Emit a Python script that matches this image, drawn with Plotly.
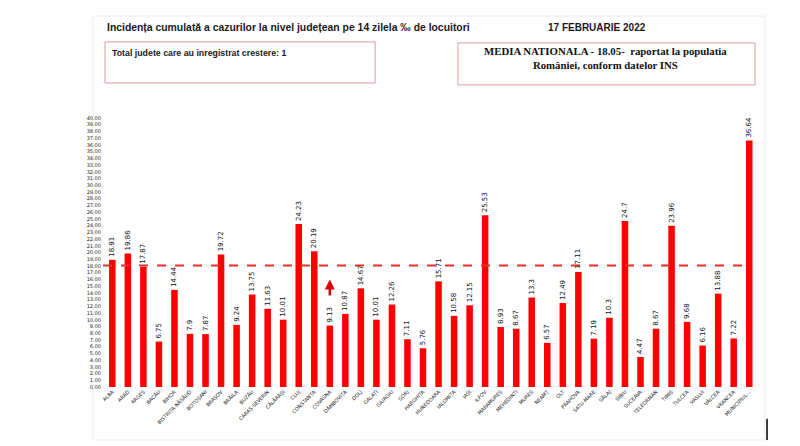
import plotly.graph_objects as go

judete = ["ALBA", "ARAD", "ARGEȘ", "BACĂU", "BIHOR", "BISTRIȚA-NĂSĂUD", "BOTOȘANI", "BRAȘOV",
          "BRĂILA", "BUZĂU", "CARAȘ-SEVERIN", "CĂLĂRAȘI", "CLUJ", "CONSTANȚA", "COVASNA",
          "DÂMBOVIȚA", "DOLJ", "GALAȚI", "GIURGIU", "GORJ", "HARGHITA", "HUNEDOARA", "IALOMIȚA",
          "IAȘI", "ILFOV", "MARAMUREȘ", "MEHEDINȚI", "MUREȘ", "NEAMȚ", "OLT", "PRAHOVA",
          "SATU MARE", "SĂLAJ", "SIBIU", "SUCEAVA", "TELEORMAN", "TIMIȘ", "TULCEA", "VASLUI",
          "VÂLCEA", "VRANCEA", "MUNICIPIUL..."]
incidenta = [18.91, 19.86, 17.87, 6.75, 14.44, 7.9, 7.87, 19.72, 9.24, 13.75, 11.63, 10.01,
             24.23, 20.19, 9.13, 10.87, 14.67, 10.01, 12.26, 7.11, 5.76, 15.71, 10.58, 12.15,
             25.53, 8.93, 8.67, 13.3, 6.57, 12.49, 17.11, 7.19, 10.3, 24.7, 4.47, 8.67, 23.96,
             9.68, 6.16, 13.88, 7.22, 36.64]
media_nationala = 18.05
y_ticks = [i * 1.0 for i in range(0, 41)]
judet_crestere = "COVASNA"
sageata = [13.4, 16.0]  # tail, tip

fig = go.Figure()
fig.add_trace(go.Bar(
    x=judete, y=incidenta,
    marker=dict(color="#ff0000", line=dict(width=0)),
    width=0.42,
    text=[f"{v:g}" for v in incidenta],
    textposition="outside",
    textangle=-90,
    constraintext="none",
    textfont=dict(family="DejaVu Sans", size=7, color="#111111"),
    cliponaxis=False,
))

# national average dashed line
fig.add_shape(type="line", xref="x", yref="y", x0=-0.6, x1=len(judete) - 1,
              y0=media_nationala, y1=media_nationala,
              line=dict(color="#e8302a", width=2, dash="dash"))

# arrow for county with increase
fig.add_annotation(x=judet_crestere, y=sageata[1], ax=judet_crestere, ay=sageata[0],
                   xref="x", yref="y", axref="x", ayref="y", text="",
                   showarrow=True, arrowhead=2, arrowsize=0.8, arrowwidth=2.5,
                   arrowcolor="#e00000")

# outer faint frame
fig.add_shape(type="rect", xref="paper", yref="paper", x0=-0.0137, x1=1.012, y0=-0.197, y1=1.379,
              line=dict(color="#ececec", width=1), fillcolor="rgba(0,0,0,0)", layer="below")
# small black mark
fig.add_shape(type="line", xref="paper", yref="paper", x0=1.0153, x1=1.0153, y0=-0.118, y1=-0.197,
              line=dict(color="#000000", width=1.5))

# title texts
fig.add_annotation(xref="paper", yref="paper", x=0.0046, y=1.338, xanchor="left", yanchor="middle",
                   text="<b>Incidența cumulată a cazurilor la nivel județean pe 14 zilela ‰ de locuitori</b>",
                   showarrow=False, font=dict(family="Liberation Sans", size=10.4, color="#1a1a1a"))
fig.add_annotation(xref="paper", yref="paper", x=0.756, y=1.338, xanchor="center", yanchor="middle",
                   text="<b>17 FEBRUARIE 2022</b>",
                   showarrow=False, font=dict(family="Liberation Sans", size=10, color="#1a1a1a"))

# box 1
fig.add_shape(type="rect", xref="paper", yref="paper", x0=0.0046, x1=0.417, y0=1.130, y1=1.283,
              line=dict(color="#e09aa0", width=1), fillcolor="white")
fig.add_annotation(xref="paper", yref="paper", x=0.0122, y=1.242, xanchor="left", yanchor="middle",
                   text="<b>Total judete care au inregistrat crestere: 1</b>",
                   showarrow=False, font=dict(family="Liberation Sans", size=8.8, color="#1a1a1a"))

# box 2
fig.add_shape(type="rect", xref="paper", yref="paper", x0=0.5435, x1=0.997, y0=1.123, y1=1.279,
              line=dict(color="#e09aa0", width=1), fillcolor="white")
fig.add_annotation(xref="paper", yref="paper", x=0.769, y=1.223, xanchor="center", yanchor="middle",
                   text="<b>MEDIA NATIONALA - 18.05-  raportat la populatia</b><br><b>României, conform datelor INS</b>",
                   showarrow=False, align="center",
                   font=dict(family="Liberation Serif", size=10.8, color="#111111"))

fig.update_layout(
    width=792, height=438,
    margin=dict(l=94, r=43, t=110, b=59),
    paper_bgcolor="white", plot_bgcolor="white",
    showlegend=False,
    xaxis=dict(type="category", tickangle=-45, showgrid=False, showline=False, ticks="",
               tickfont=dict(family="DejaVu Sans", size=5, color="#222222"), fixedrange=True,
               automargin=False),
    yaxis=dict(range=[0, 40], tickvals=y_ticks, ticktext=[f"{v:.2f}" for v in y_ticks],
               showgrid=False, showline=False, zeroline=False, ticks="",
               tickfont=dict(family="DejaVu Sans", size=5, color="#222222"), fixedrange=True,
               automargin=False),
)

fig.write_html("out.html")
